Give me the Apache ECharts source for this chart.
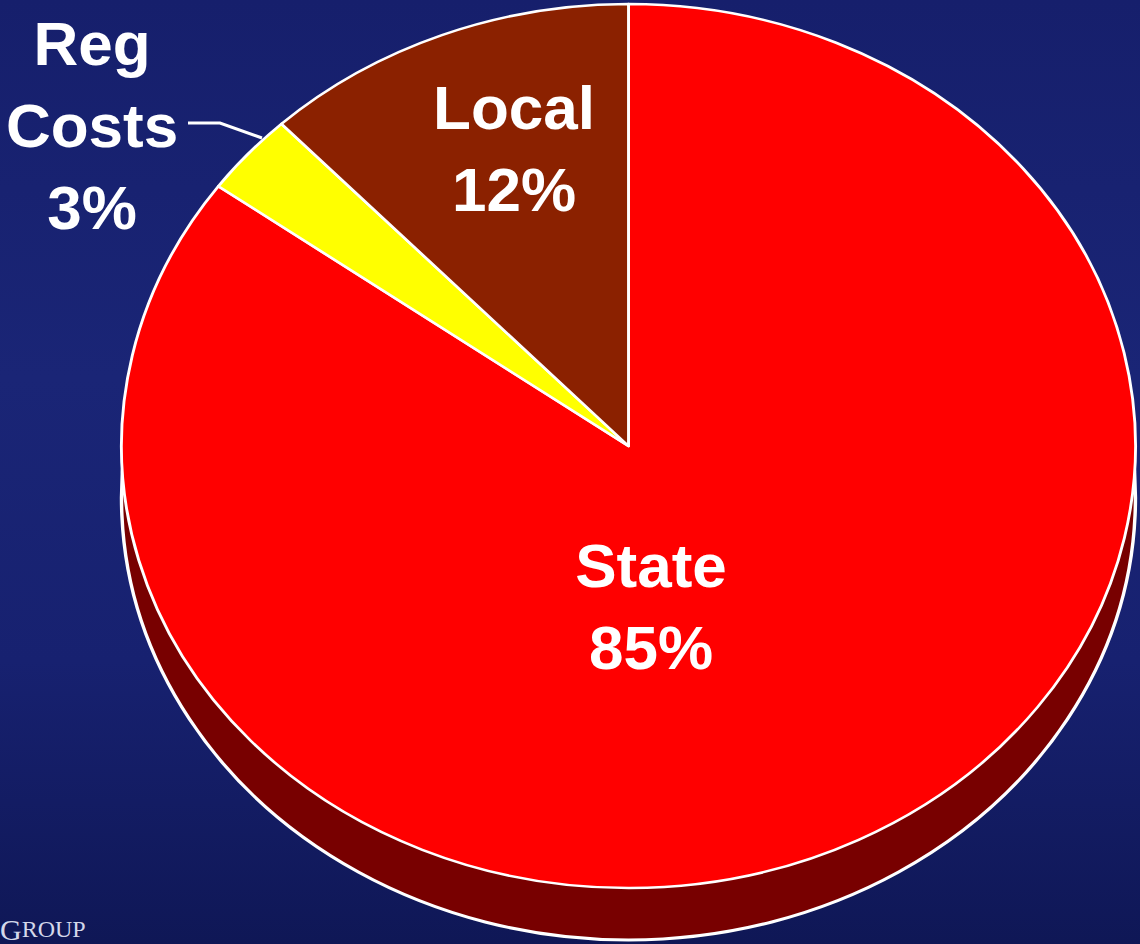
<!DOCTYPE html>
<html>
<head>
<meta charset="utf-8">
<script src="https://cdn.jsdelivr.net/npm/echarts@6.0.0/dist/echarts.min.js"></script>
<style>
  html, body { margin: 0; padding: 0; width: 1140px; height: 944px; overflow: hidden; }
  body { background: linear-gradient(180deg, #161f6c 0%, #1a2576 40%, #172170 70%, #0f1756 100%); position: relative; }
  #pie { position: absolute; left: 0; top: 0; width: 1140px; height: 944px; transform: scaleX(1.147); transform-origin: 628.5px 0; }
  #labels { position: absolute; left: 0; top: 0; width: 1140px; height: 944px; }
</style>
</head>
<body>
<div id="pie"></div>
<div id="labels"></div>
<script>
// ---- data ----
const categories = ['State', 'Reg Costs', 'Local'];
const shares = [85, 3, 12];
const sliceColors = ['#ff0000', '#ffff00', '#8b2100'];
const footerText = ['G', 'ROUP'];

const pieData = categories.map((name, i) => ({ name: name, value: shares[i] }));

// ---- layer 1: the (horizontally stretched) pie with its 3D rim ----
const pieChart = echarts.init(document.getElementById('pie'), null, { renderer: 'svg' });
pieChart.setOption({
  backgroundColor: 'transparent',
  animation: false,
  series: [
    {
      type: 'pie',
      silent: true,
      center: [628.5, 498],
      radius: 442,
      label: { show: false },
      labelLine: { show: false },
      itemStyle: { color: '#780000', borderColor: '#ffffff', borderWidth: 3 },
      data: [{ name: 'rim', value: 1 }]
    },
    {
      type: 'pie',
      silent: true,
      center: [628.5, 446],
      radius: 442,
      startAngle: 90,
      clockwise: true,
      label: { show: false },
      labelLine: { show: false },
      itemStyle: { borderColor: '#ffffff', borderWidth: 2.5 },
      data: pieData.map((d, i) => ({ name: d.name, value: d.value, itemStyle: { color: sliceColors[i] } }))
    }
  ]
});

// ---- layer 2: labels (not stretched) ----
const labelPos = {
  'State': [651, 606],
  'Local': [514, 148],
  'Reg Costs': [92, 125]
};
const labelChart = echarts.init(document.getElementById('labels'), null, { renderer: 'svg' });
labelChart.setOption({
  backgroundColor: 'transparent',
  animation: false,
  graphic: [
    {
      type: 'text',
      left: 0,
      bottom: 0,
      style: {
        text: '{a|' + footerText[0] + '}{b|' + footerText[1] + '}',
        fill: '#d4d8ea',
        rich: {
          a: { fontSize: 30, fontFamily: 'Liberation Serif, serif', fill: '#d4d8ea', color: '#d4d8ea' },
          b: { fontSize: 24, fontFamily: 'Liberation Serif, serif', fill: '#d4d8ea', color: '#d4d8ea' }
        }
      }
    }
  ],
  series: [
    {
      type: 'pie',
      silent: true,
      center: [628.5, 446],
      radius: 442,
      startAngle: 90,
      clockwise: true,
      itemStyle: { color: 'rgba(0,0,0,0)', borderWidth: 0 },
      label: {
        show: true,
        position: 'inside',
        color: '#ffffff',
        fontFamily: 'Liberation Sans, Arial, sans-serif',
        fontWeight: 'bold',
        fontSize: 62,
        lineHeight: 82,
        align: 'center',
        formatter: p => p.name.replace(' ', '\n') + '\n' + Math.round(p.percent) + '%'
      },
      labelLine: { show: false },
      labelLayout: function (params) {
        const name = categories[params.dataIndex];
        const pos = labelPos[name];
        const out = { x: pos[0], y: pos[1], align: 'center', verticalAlign: 'middle', hideOverlap: false, moveOverlap: false };
        if (name === 'Reg Costs') {
          out.labelLinePoints = [[262, 138], [220, 123], [188, 123]];
        }
        return out;
      },
      data: pieData.map((d, i) => {
        const item = { name: d.name, value: d.value };
        if (d.name === 'Reg Costs') {
          item.label = { position: 'outside' };
          item.labelLine = { show: true, length: 20, length2: 20, lineStyle: { color: '#ffffff', width: 3 } };
        }
        return item;
      })
    }
  ]
});
</script>
</body>
</html>
